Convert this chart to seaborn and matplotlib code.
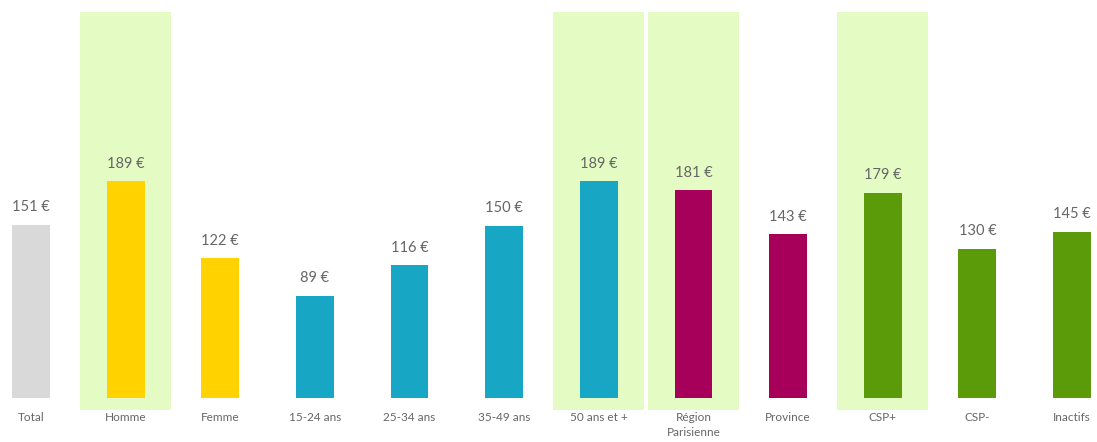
import matplotlib
matplotlib.use("Agg")
import matplotlib.pyplot as plt
import seaborn as sns
from matplotlib.patches import Rectangle

categories = ["Total", "Homme", "Femme", "15-24 ans", "25-34 ans", "35-49 ans",
              "50 ans et +", "Région\nParisienne", "Province", "CSP+", "CSP-", "Inactifs"]
values = [151, 189, 122, 89, 116, 150, 189, 181, 143, 179, 130, 145]
bar_colors = ["#D9D9D9", "#FFD200", "#FFD200", "#17A7C4", "#17A7C4", "#17A7C4",
              "#17A7C4", "#A6005A", "#A6005A", "#5B9A08", "#5B9A08", "#5B9A08"]
highlighted = ["Homme", "50 ans et +", "Région\nParisienne", "CSP+"]

sns.set_theme(style="white")
plt.rcParams["font.family"] = ["Lato", "DejaVu Sans"]

fig = plt.figure(figsize=(10.97, 4.42), dpi=100)
ax = fig.add_axes([0, 44 / 442, 1, 398 / 442])

slot = 94.64
ax.set_xlim(-31 / slot, (1097 - 31) / slot)
ax.set_ylim(0, 398 / 1.148)

# highlight backgrounds
for i, c in enumerate(categories):
    if c in highlighted:
        ax.add_patch(Rectangle((i - 0.48, -10.5), 0.96, 346.5,
                               facecolor="#E4FCC3", edgecolor="none",
                               zorder=0, clip_on=False))

sns.barplot(x=categories, y=values, hue=categories, palette=bar_colors,
            legend=False, width=0.4, ax=ax, saturation=1, zorder=2,
            linewidth=0, edgecolor="none")

ax.set_xlim(-31 / slot, (1097 - 31) / slot)
ax.set_ylim(0, 398 / 1.148)

for i, v in enumerate(values):
    ax.text(i, v + 9, f"{v} €", ha="center", va="bottom",
            fontsize=10.5, color="#666666", zorder=3)

ax.set_xticks(range(len(categories)))
ax.set_xticklabels(categories, fontsize=8.5, color="#666666", linespacing=1.5)
ax.tick_params(axis="x", length=0, pad=10)
ax.set_yticks([])
ax.set_xlabel("")
ax.set_ylabel("")
for s in ax.spines.values():
    s.set_visible(False)
ax.patch.set_alpha(0)

fig.savefig("out.png", dpi=100)
